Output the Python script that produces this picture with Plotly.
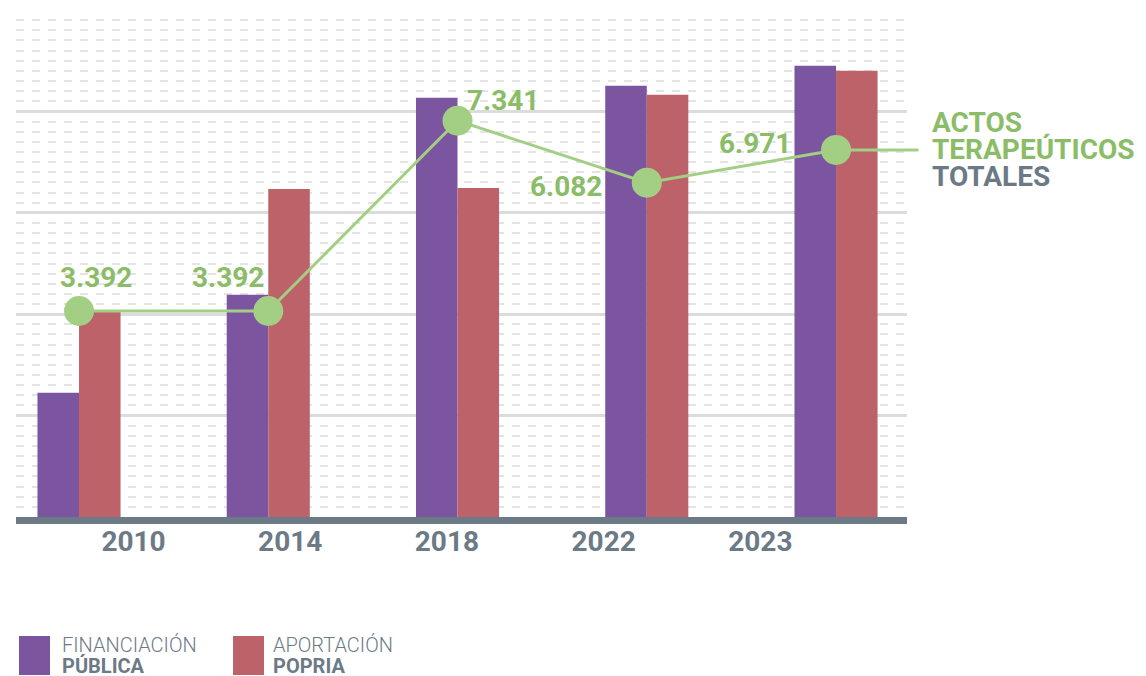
import plotly.graph_objects as go

# ---- data ----
years = ["2010", "2014", "2018", "2022", "2023"]
financiacion_publica = [2450, 4385, 8270, 8507, 8900]
aportacion_propia = [4050, 6470, 6490, 8330, 8803]
actos_pos = [4063, 4063, 7817, 6594, 7239]          # plotted height of the line
actos_labels = ["3.392", "3.392", "7.341", "6.082", "6.971"]
label_dx = [17, -40, 45, -81, -81]
label_dy = [34, 34, 20, -4, 6]

PURPLE = "#7b55a0"
RED = "#bc6268"
GREEN_LINE = "#a3cf85"
GREEN_TEXT = "#8bbd68"
GRAY = "#6c7a86"
FONT = "Roboto"

fig = go.Figure()
fig.add_trace(go.Bar(x=years, y=financiacion_publica, name="FINANCIACIÓN PÚBLICA",
                     marker=dict(color=PURPLE, line=dict(width=0))))
fig.add_trace(go.Bar(x=years, y=aportacion_propia, name="APORTACIÓN POPRIA",
                     marker=dict(color=RED, line=dict(width=0))))
fig.add_trace(go.Scatter(x=years, y=actos_pos, mode="lines+markers",
                         line=dict(color=GREEN_LINE, width=3),
                         marker=dict(size=30, color=GREEN_LINE, line=dict(width=0)),
                         cliponaxis=False, showlegend=False))
# invisible trace to carry the year tick labels
fig.add_trace(go.Scatter(x=years, y=[None] * len(years), xaxis="x2", showlegend=False,
                         hoverinfo="skip"))

annotations = []
for i, (pos, lab, dx, dy) in enumerate(zip(actos_pos, actos_labels, label_dx, label_dy)):
    annotations.append(dict(x=i, y=pos, xref="x", yref="y", text=lab, showarrow=False,
                            xshift=dx, yshift=dy,
                            font=dict(family=FONT, size=28, color=GREEN_TEXT, weight="bold")))

last = len(years) - 1
# connector from last point to the side label
annotations.append(dict(x=last, y=actos_pos[-1], xref="x", yref="y", text="",
                        showarrow=True, ax=84, ay=0, arrowhead=0, arrowwidth=3,
                        arrowcolor=GREEN_LINE, standoff=0))
side = [("ACTOS", GREEN_TEXT, 27), ("TERAPEÚTICOS", GREEN_TEXT, 0), ("TOTALES", GRAY, -27)]
for txt, col, sh in side:
    annotations.append(dict(x=last, y=actos_pos[-1], xref="x", yref="y", text=txt,
                            showarrow=False, xanchor="left", yanchor="middle",
                            xshift=94, yshift=sh,
                            font=dict(family=FONT, size=28, color=col, weight="bold")))

# custom legend
legend_items = [(PURPLE, "FINANCIACIÓN", "PÚBLICA", 3, 44),
                (RED, "APORTACIÓN", "POPRIA", 217, 255)]
shapes = []
for col, l1, l2, sx, tx in legend_items:
    shapes.append(dict(type="rect", xref="paper", yref="paper", xsizemode="pixel",
                       ysizemode="pixel", xanchor=0, yanchor=0, x0=sx, x1=sx + 31,
                       y0=-158, y1=-119, fillcolor=col, line=dict(width=0)))
    annotations.append(dict(x=0, y=0, xref="paper", yref="paper", text=l1, showarrow=False,
                            xanchor="left", yanchor="middle", xshift=tx, yshift=-128,
                            font=dict(family=FONT, size=20, color=GRAY, weight=300)))
    annotations.append(dict(x=0, y=0, xref="paper", yref="paper", text=l2, showarrow=False,
                            xanchor="left", yanchor="middle", xshift=tx, yshift=-149,
                            font=dict(family=FONT, size=20, color=GRAY, weight="bold")))

fig.update_layout(
    width=1138, height=668,
    margin=dict(l=8, r=239, t=2, b=159),
    plot_bgcolor="white", paper_bgcolor="white",
    barmode="group", bargap=0.561, bargroupgap=0,
    showlegend=False,
    annotations=annotations, shapes=shapes,
    xaxis=dict(type="category", range=[-0.333, 4.375], showticklabels=False,
               showgrid=False, showline=True, linecolor=GRAY, linewidth=7,
               ticks="", zeroline=False, fixedrange=True),
    xaxis2=dict(type="category", overlaying="x", side="bottom", anchor="y",
                range=[-0.750, 4.936], showgrid=False, showline=False, ticks="",
                tickfont=dict(family=FONT, size=28, color=GRAY, weight="bold"),
                ticklabelstandoff=5),
    yaxis=dict(range=[0, 10000], dtick=2000, showticklabels=False, zeroline=False,
               showgrid=True, gridcolor="#dcdcdc", gridwidth=2.5,
               minor=dict(dtick=200, showgrid=True, gridcolor="#e4e4e4", gridwidth=1.5,
                          griddash="8px,8px")),
)

fig.write_html("out.html")
